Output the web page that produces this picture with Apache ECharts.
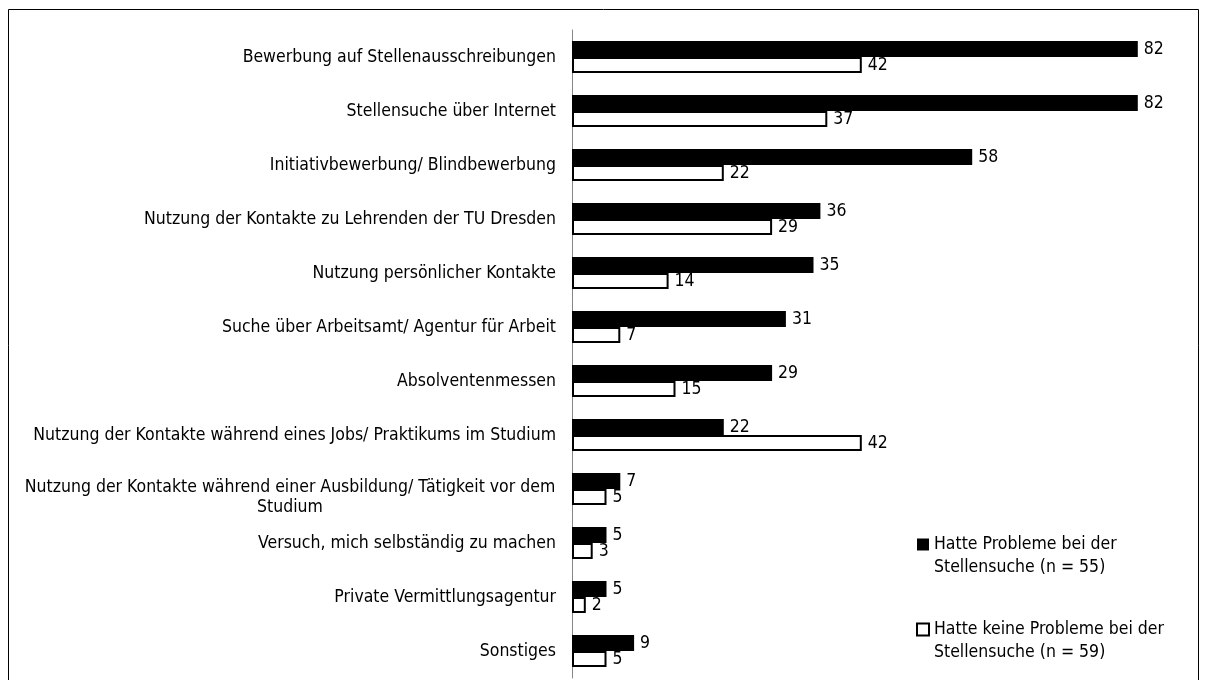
<!DOCTYPE html>
<html>
<head>
<meta charset="utf-8">
<script src="https://cdn.jsdelivr.net/npm/echarts@6/dist/echarts.min.js"></script>
<style>
html,body{margin:0;padding:0;background:#fff;}
#chart{width:1207px;height:680px;}
</style>
</head>
<body>
<div id="chart"></div>
<script>
const categories = [
  'Bewerbung auf Stellenausschreibungen',
  'Stellensuche über Internet',
  'Initiativbewerbung/ Blindbewerbung',
  'Nutzung der Kontakte zu Lehrenden der TU Dresden',
  'Nutzung persönlicher Kontakte',
  'Suche über Arbeitsamt/ Agentur für Arbeit',
  'Absolventenmessen',
  'Nutzung der Kontakte während eines Jobs/ Praktikums im Studium',
  'Nutzung der Kontakte während einer Ausbildung/ Tätigkeit vor dem\nStudium',
  'Versuch, mich selbständig zu machen',
  'Private Vermittlungsagentur',
  'Sonstiges'
];
const seriesNames = [
  'Hatte Probleme bei der\nStellensuche (n = 55)',
  'Hatte keine Probleme bei der\nStellensuche (n = 59)'
];
const withProblems = [82, 82, 58, 36, 35, 31, 29, 22, 7, 5, 5, 9];
const withoutProblems = [42, 37, 22, 29, 14, 7, 15, 42, 5, 3, 2, 5];

const FONT = "'Liberation Sans Narrow', 'Arial Narrow', 'DejaVu Sans Condensed', sans-serif";

const chart = echarts.init(document.getElementById('chart'));
chart.setOption({
  animation: false,
  backgroundColor: '#fff',
  textStyle: { fontFamily: FONT },
  graphic: [{
    type: 'rect',
    shape: { x: 8.5, y: 9.5, width: 1190, height: 700 },
    style: { fill: 'none', stroke: '#000', lineWidth: 1 },
    silent: true
  }],
  grid: { left: 572, top: 30, width: 621, height: 648, containLabel: false },
  xAxis: {
    type: 'value', min: 0, max: 90, show: false
  },
  yAxis: {
    type: 'category',
    data: categories,
    inverse: true,
    axisLine: { lineStyle: { color: '#868686', width: 1 } },
    axisTick: { length: 5, lineStyle: { color: '#868686' } },
    axisLabel: {
      margin: 16,
      color: '#000',
      fontSize: 17.5,
      fontFamily: FONT,
      formatter: function (v) {
        if (v.indexOf('\n') >= 0) return '{two|' + v + '}';
        return v;
      },
      rich: {
        two: { width: 532, align: 'center', fontSize: 17.5, fontFamily: FONT, lineHeight: 20, padding: [16, 0, 0, 0], color: '#000' }
      }
    }
  },
  legend: {
    orient: 'vertical',
    left: 911,
    top: 505,
    height: 300,
    itemGap: 16,
    itemWidth: 12,
    itemHeight: 12,
    icon: 'rect',
    formatter: function (name) { return ' \n' + name; },
    textStyle: { fontSize: 17.5, fontFamily: FONT, color: '#000', lineHeight: 23 },
    data: [
      { name: seriesNames[0], itemStyle: { color: '#000', borderColor: '#000', borderWidth: 0 } },
      { name: seriesNames[1], itemStyle: { color: '#fff', borderColor: '#000', borderWidth: 2 } }
    ]
  },
  series: [
    {
      name: seriesNames[0],
      type: 'bar',
      data: withProblems,
      barWidth: 16,
      barGap: '0%',
      itemStyle: { color: '#000' },
      label: { show: true, position: 'right', distance: 6, color: '#000', fontSize: 17.5, fontFamily: FONT }
    },
    {
      name: seriesNames[1],
      type: 'bar',
      data: withoutProblems,
      barWidth: 16,
      barGap: '0%',
      itemStyle: { color: '#fff', borderColor: '#000', borderWidth: 2 },
      label: { show: true, position: 'right', distance: 6, color: '#000', fontSize: 17.5, fontFamily: FONT }
    }
  ]
});
</script>
</body>
</html>
